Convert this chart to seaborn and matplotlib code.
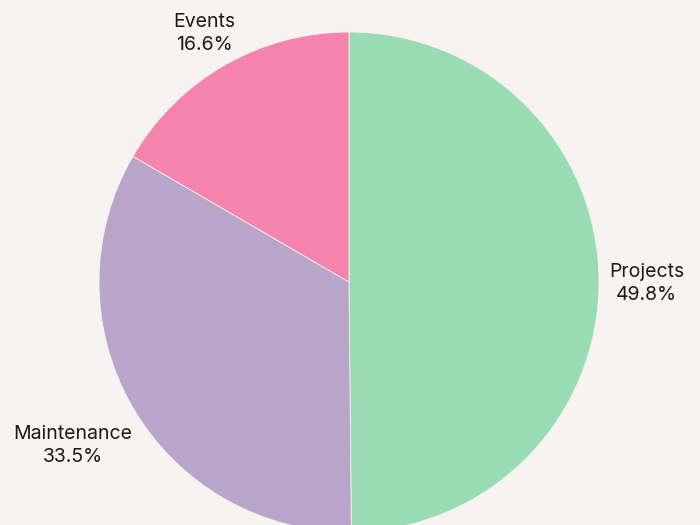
import numpy as np
import matplotlib.pyplot as plt
import seaborn as sns

categories = ['Projects', 'Maintenance', 'Events']
values = [49.8, 33.5, 16.6]
colors = ['#99dbb3', '#b9a5c9', '#f483ad']
label_dist = [1.19, 1.28, 1.16]

sns.set_theme(style='white')
plt.rcParams['font.family'] = ['Inter', 'DejaVu Sans']

bg = '#f7f3f0'
fig = plt.figure(figsize=(7, 5.25), dpi=100, facecolor=bg)
ax = fig.add_axes([0, 0, 1, 1])
ax.set_facecolor(bg)

wedges, _ = ax.pie(values, colors=colors, startangle=90, counterclock=False,
                   radius=1, wedgeprops={'linewidth': 0.6, 'edgecolor': bg})

for w, cat, v, d in zip(wedges, categories, values, label_dist):
    ang = np.deg2rad((w.theta1 + w.theta2) / 2)
    ax.text(d * np.cos(ang), d * np.sin(ang) - 0.012, f'{cat}\n{v:.1f}%',
            ha='center', va='center', fontsize=14, color='#1a1a1a',
            linespacing=1.35)

ax.set_xlim(-1.396, 1.404)
ax.set_ylim(-0.972, 1.128)
ax.set_aspect('equal')
ax.axis('off')

fig.savefig('out.png', dpi=100, facecolor=bg)
